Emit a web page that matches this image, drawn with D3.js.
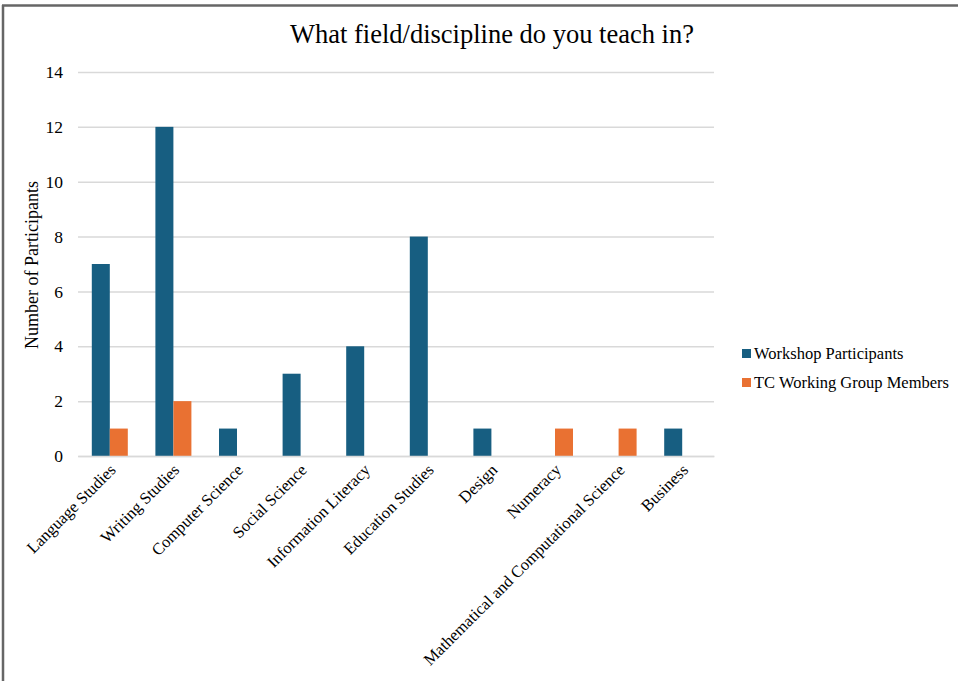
<!DOCTYPE html>
<html>
<head>
<meta charset="utf-8">
<script src="https://cdn.jsdelivr.net/npm/d3@7"></script>
<style>
  html, body { margin: 0; padding: 0; background: #fff; }
  svg { display: block; }
  svg text { font-family: "Liberation Serif", "Times New Roman", Times, serif !important; fill: #000; }
</style>
</head>
<body>
<svg id="chart" width="958" height="681"></svg>
<script>
// Survey responses: field/discipline taught
const categories = [
  "Language Studies", "Writing Studies", "Computer Science", "Social Science",
  "Information Literacy", "Education Studies", "Design", "Numeracy",
  "Mathematical and Computational Science", "Business"
];
const seriesNames = ["Workshop Participants", "TC Working Group Members"];
const workshopParticipants = [7, 12, 1, 3, 4, 8, 1, 0, 0, 1];
const tcWorkingGroupMembers = [1, 2, 0, 0, 0, 0, 0, 1, 1, 0];
const yTicks = [0, 2, 4, 6, 8, 10, 12, 14];
const colors = ["#175e81", "#e97132"];

const svg = d3.select("#chart");
const W = 958, H = 681;
const plot = { left: 78, right: 714, top: 72, bottom: 456 };

// frame lines along left and top edges
svg.append("line").attr("x1", 3).attr("x2", 3).attr("y1", 5).attr("y2", H)
  .attr("stroke", "#666").attr("stroke-width", 2.5);
svg.append("line").attr("x1", 2).attr("x2", W).attr("y1", 5.5).attr("y2", 5.5)
  .attr("stroke", "#666").attr("stroke-width", 2.5);

const x0 = d3.scaleBand().domain(categories).range([plot.left, plot.right]).paddingInner(0).paddingOuter(0);
const groupWidth = 36;
const x1 = d3.scaleBand().domain(seriesNames).range([0, groupWidth]).padding(0);
const y = d3.scaleLinear().domain([0, 14]).range([plot.bottom, plot.top]);

// horizontal gridlines
svg.append("g")
  .attr("transform", `translate(${plot.left},0)`)
  .call(d3.axisLeft(y).tickValues(yTicks).tickSize(-(plot.right - plot.left)).tickFormat(""))
  .call(g => g.select(".domain").remove())
  .call(g => g.selectAll(".tick line").attr("stroke", "#d9d9d9").attr("stroke-width", 1.5));

// y tick labels
svg.append("g")
  .attr("transform", `translate(${plot.left - 15},0)`)
  .call(d3.axisLeft(y).tickValues(yTicks).tickSize(0).tickPadding(0))
  .call(g => g.select(".domain").remove())
  .call(g => g.selectAll("text").attr("font-size", 17.5));

// bars
const data = categories.map((c, i) => ({
  category: c,
  values: [workshopParticipants[i], tcWorkingGroupMembers[i]]
}));
const groups = svg.append("g").selectAll("g").data(data).join("g")
  .attr("transform", d => `translate(${x0(d.category) + (x0.bandwidth() - groupWidth) / 2},0)`);
groups.selectAll("rect")
  .data(d => d.values.map((v, k) => ({ series: seriesNames[k], value: v, k })))
  .join("rect")
  .filter(d => d.value > 0)
  .attr("x", d => x1(d.series))
  .attr("width", x1.bandwidth())
  .attr("y", d => y(d.value))
  .attr("height", d => y(0) - y(d.value))
  .attr("fill", d => colors[d.k]);

// x category labels, rotated
svg.append("g")
  .attr("transform", `translate(0,${plot.bottom})`)
  .call(d3.axisBottom(x0).tickSize(0).tickPadding(0))
  .call(g => g.select(".domain").attr("stroke", "#d9d9d9").attr("stroke-width", 1.5))
  .call(g => g.selectAll(".tick text")
    .attr("font-size", 16.5)
    .attr("text-anchor", "end")
    .attr("dy", 0)
    .attr("transform", "translate(7,15) rotate(-45)"));

// title
svg.append("text")
  .attr("x", 492).attr("y", 43)
  .attr("text-anchor", "middle")
  .attr("font-size", 26.5)
  .text("What field/discipline do you teach in?");

// y axis title
svg.append("text")
  .attr("transform", `translate(38,${(plot.top + plot.bottom) / 2 + 1}) rotate(-90)`)
  .attr("text-anchor", "middle")
  .attr("font-size", 18)
  .text("Number of Participants");

// legend
const legend = svg.append("g").attr("transform", "translate(742,353)");
seriesNames.forEach((name, i) => {
  const row = legend.append("g").attr("transform", `translate(0,${i * 29})`);
  row.append("rect").attr("x", 0).attr("y", -4).attr("width", 9).attr("height", 9).attr("fill", colors[i]);
  row.append("text").attr("x", 12).attr("y", 6)
    .attr("font-size", 16.5).text(name);
});
</script>
</body>
</html>
